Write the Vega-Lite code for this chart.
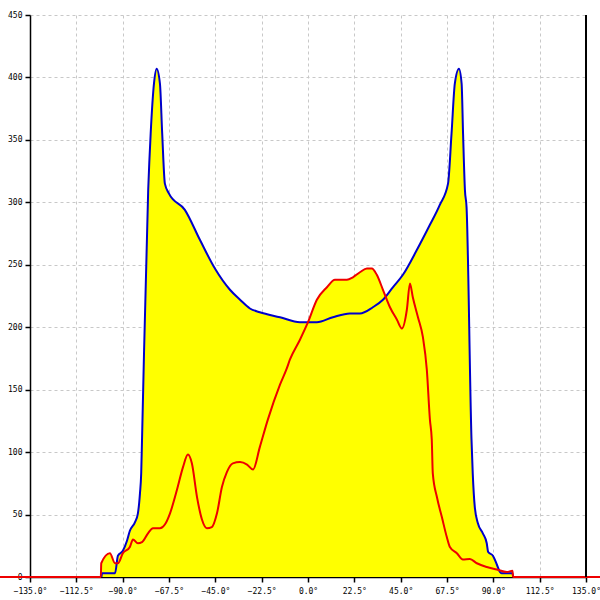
{
  "$schema": "https://vega.github.io/schema/vega-lite/v6.json",
  "width": 556,
  "height": 562,
  "autosize": {"type": "none"},
  "padding": {"left": 30, "top": 15, "right": 14, "bottom": 23},
  "background": "white",
  "config": {
    "view": {"stroke": null},
    "axis": {
      "labelFont": "DejaVu Sans Mono",
      "labelFontSize": 8,
      "labelColor": "black",
      "domainColor": "black",
      "domainWidth": 1.5,
      "tickColor": "black",
      "tickSize": 5,
      "tickWidth": 1.5,
      "gridColor": "#c8c8c8",
      "gridDash": [3, 3],
      "gridWidth": 1,
      "title": null
    }
  },
  "data": {
    "values": [
      {"series": "blue", "deg": -100.3, "val": 0},
      {"series": "blue", "deg": -100, "val": 3},
      {"series": "blue", "deg": -93.7, "val": 3},
      {"series": "blue", "deg": -92.3, "val": 17},
      {"series": "blue", "deg": -89.9, "val": 21},
      {"series": "blue", "deg": -87.9, "val": 29},
      {"series": "blue", "deg": -86.5, "val": 37},
      {"series": "blue", "deg": -84, "val": 44},
      {"series": "blue", "deg": -82.6, "val": 51},
      {"series": "blue", "deg": -81.6, "val": 67},
      {"series": "blue", "deg": -81, "val": 83},
      {"series": "blue", "deg": -80.6, "val": 110},
      {"series": "blue", "deg": -77.6, "val": 310},
      {"series": "blue", "deg": -76.4, "val": 355},
      {"series": "blue", "deg": -74.8, "val": 395},
      {"series": "blue", "deg": -73.5, "val": 407},
      {"series": "blue", "deg": -71.9, "val": 395},
      {"series": "blue", "deg": -70.8, "val": 355},
      {"series": "blue", "deg": -69.5, "val": 315},
      {"series": "blue", "deg": -67.5, "val": 307},
      {"series": "blue", "deg": -59.8, "val": 294},
      {"series": "blue", "deg": -52.5, "val": 270},
      {"series": "blue", "deg": -45.2, "val": 247},
      {"series": "blue", "deg": -37.9, "val": 230},
      {"series": "blue", "deg": -33, "val": 222},
      {"series": "blue", "deg": -28.2, "val": 215},
      {"series": "blue", "deg": -23.4, "val": 212},
      {"series": "blue", "deg": -13.6, "val": 208},
      {"series": "blue", "deg": -3.9, "val": 204},
      {"series": "blue", "deg": 4.3, "val": 204},
      {"series": "blue", "deg": 12.1, "val": 208},
      {"series": "blue", "deg": 20.3, "val": 211},
      {"series": "blue", "deg": 25.2, "val": 211},
      {"series": "blue", "deg": 31.5, "val": 216},
      {"series": "blue", "deg": 36.4, "val": 222},
      {"series": "blue", "deg": 41.2, "val": 232},
      {"series": "blue", "deg": 46.1, "val": 242},
      {"series": "blue", "deg": 52.9, "val": 262},
      {"series": "blue", "deg": 59.2, "val": 282},
      {"series": "blue", "deg": 64, "val": 298},
      {"series": "blue", "deg": 68, "val": 315},
      {"series": "blue", "deg": 69.7, "val": 355},
      {"series": "blue", "deg": 71.3, "val": 395},
      {"series": "blue", "deg": 73.3, "val": 407},
      {"series": "blue", "deg": 74.6, "val": 395},
      {"series": "blue", "deg": 75.3, "val": 355},
      {"series": "blue", "deg": 76.2, "val": 310},
      {"series": "blue", "deg": 77, "val": 296},
      {"series": "blue", "deg": 79.4, "val": 110},
      {"series": "blue", "deg": 80, "val": 83},
      {"series": "blue", "deg": 81, "val": 56},
      {"series": "blue", "deg": 82.5, "val": 43},
      {"series": "blue", "deg": 84.9, "val": 35},
      {"series": "blue", "deg": 86.8, "val": 27},
      {"series": "blue", "deg": 87.5, "val": 20},
      {"series": "blue", "deg": 89.8, "val": 17},
      {"series": "blue", "deg": 91.7, "val": 10},
      {"series": "blue", "deg": 93.2, "val": 4},
      {"series": "blue", "deg": 94, "val": 3},
      {"series": "blue", "deg": 99.3, "val": 3},
      {"series": "blue", "deg": 99.6, "val": 0},
      {"series": "red", "deg": -150, "val": 0},
      {"series": "red", "deg": -100.6, "val": 0},
      {"series": "red", "deg": -100.4, "val": 11},
      {"series": "red", "deg": -96.2, "val": 19},
      {"series": "red", "deg": -93.7, "val": 11},
      {"series": "red", "deg": -92.3, "val": 11},
      {"series": "red", "deg": -89.9, "val": 19},
      {"series": "red", "deg": -86.5, "val": 24},
      {"series": "red", "deg": -85, "val": 30},
      {"series": "red", "deg": -82.6, "val": 27},
      {"series": "red", "deg": -80.6, "val": 28},
      {"series": "red", "deg": -77.7, "val": 35},
      {"series": "red", "deg": -75.3, "val": 39},
      {"series": "red", "deg": -71.9, "val": 39},
      {"series": "red", "deg": -69.5, "val": 42},
      {"series": "red", "deg": -67, "val": 51},
      {"series": "red", "deg": -63.6, "val": 70},
      {"series": "red", "deg": -60.7, "val": 88},
      {"series": "red", "deg": -58.3, "val": 98},
      {"series": "red", "deg": -56.4, "val": 91},
      {"series": "red", "deg": -53.9, "val": 64},
      {"series": "red", "deg": -51.5, "val": 46},
      {"series": "red", "deg": -49.1, "val": 39},
      {"series": "red", "deg": -46.7, "val": 40},
      {"series": "red", "deg": -44.2, "val": 51},
      {"series": "red", "deg": -41.8, "val": 72},
      {"series": "red", "deg": -39.4, "val": 84},
      {"series": "red", "deg": -36.5, "val": 91},
      {"series": "red", "deg": -33, "val": 92},
      {"series": "red", "deg": -29.6, "val": 90},
      {"series": "red", "deg": -26.7, "val": 86},
      {"series": "red", "deg": -23.4, "val": 104},
      {"series": "red", "deg": -19.5, "val": 126},
      {"series": "red", "deg": -13.6, "val": 154},
      {"series": "red", "deg": -10.3, "val": 167},
      {"series": "red", "deg": -8.8, "val": 174},
      {"series": "red", "deg": -3.9, "val": 190},
      {"series": "red", "deg": 0, "val": 204},
      {"series": "red", "deg": 4.3, "val": 222},
      {"series": "red", "deg": 9.2, "val": 232},
      {"series": "red", "deg": 13.1, "val": 238},
      {"series": "red", "deg": 18.9, "val": 238},
      {"series": "red", "deg": 21.8, "val": 240},
      {"series": "red", "deg": 25.2, "val": 244},
      {"series": "red", "deg": 28.6, "val": 247},
      {"series": "red", "deg": 31, "val": 247},
      {"series": "red", "deg": 33.4, "val": 242},
      {"series": "red", "deg": 36.4, "val": 230},
      {"series": "red", "deg": 39.8, "val": 216},
      {"series": "red", "deg": 43.2, "val": 206},
      {"series": "red", "deg": 45.6, "val": 199},
      {"series": "red", "deg": 48, "val": 214},
      {"series": "red", "deg": 49.5, "val": 235},
      {"series": "red", "deg": 50.9, "val": 224},
      {"series": "red", "deg": 53.4, "val": 208},
      {"series": "red", "deg": 55.8, "val": 192},
      {"series": "red", "deg": 57.7, "val": 166},
      {"series": "red", "deg": 59.2, "val": 126},
      {"series": "red", "deg": 60.1, "val": 110},
      {"series": "red", "deg": 60.6, "val": 83},
      {"series": "red", "deg": 62.6, "val": 64},
      {"series": "red", "deg": 65, "val": 48},
      {"series": "red", "deg": 67.4, "val": 32},
      {"series": "red", "deg": 68.9, "val": 24},
      {"series": "red", "deg": 72.3, "val": 19},
      {"series": "red", "deg": 75.2, "val": 14},
      {"series": "red", "deg": 78.6, "val": 14.4},
      {"series": "red", "deg": 82, "val": 11},
      {"series": "red", "deg": 86.8, "val": 8},
      {"series": "red", "deg": 91.7, "val": 6},
      {"series": "red", "deg": 96.6, "val": 4},
      {"series": "red", "deg": 99.3, "val": 5},
      {"series": "red", "deg": 99.6, "val": 0},
      {"series": "red", "deg": 145, "val": 0}
    ]
  },
  "encoding": {
    "x": {
      "field": "deg",
      "type": "quantitative",
      "scale": {"domain": [-135, 135], "nice": false, "zero": false},
      "axis": {
        "values": [-135, -112.5, -90, -67.5, -45, -22.5, 0, 22.5, 45, 67.5, 90, 112.5, 135],
        "labelExpr": "format(datum.value, '.1f') + '°'",
        "labelPadding": 5,
        "labelFlush": false
      }
    },
    "y": {
      "field": "val",
      "type": "quantitative",
      "stack": null,
      "scale": {"domain": [0, 450], "nice": false},
      "axis": {
        "values": [0, 50, 100, 150, 200, 250, 300, 350, 400, 450],
        "labelPadding": 3,
        "labelFlush": false
      }
    }
  },
  "layer": [
    {
      "transform": [{"filter": "datum.series === 'blue'"}],
      "mark": {"type": "area", "color": "#ffff00", "interpolate": "monotone"}
    },
    {
      "transform": [{"filter": "datum.series === 'red'"}],
      "mark": {"type": "area", "color": "#ffff00", "interpolate": "monotone"}
    },
    {
      "transform": [{"filter": "datum.series === 'blue'"}],
      "mark": {"type": "line", "color": "#0000cc", "strokeWidth": 2, "interpolate": "monotone"}
    },
    {
      "transform": [{"filter": "datum.series === 'red'"}],
      "mark": {"type": "line", "color": "#ee0000", "strokeWidth": 2, "interpolate": "monotone"}
    },
    {
      "mark": {"type": "rule", "color": "black", "strokeWidth": 1.5},
      "encoding": {"x": {"datum": 135}, "y": null}
    }
  ]
}
